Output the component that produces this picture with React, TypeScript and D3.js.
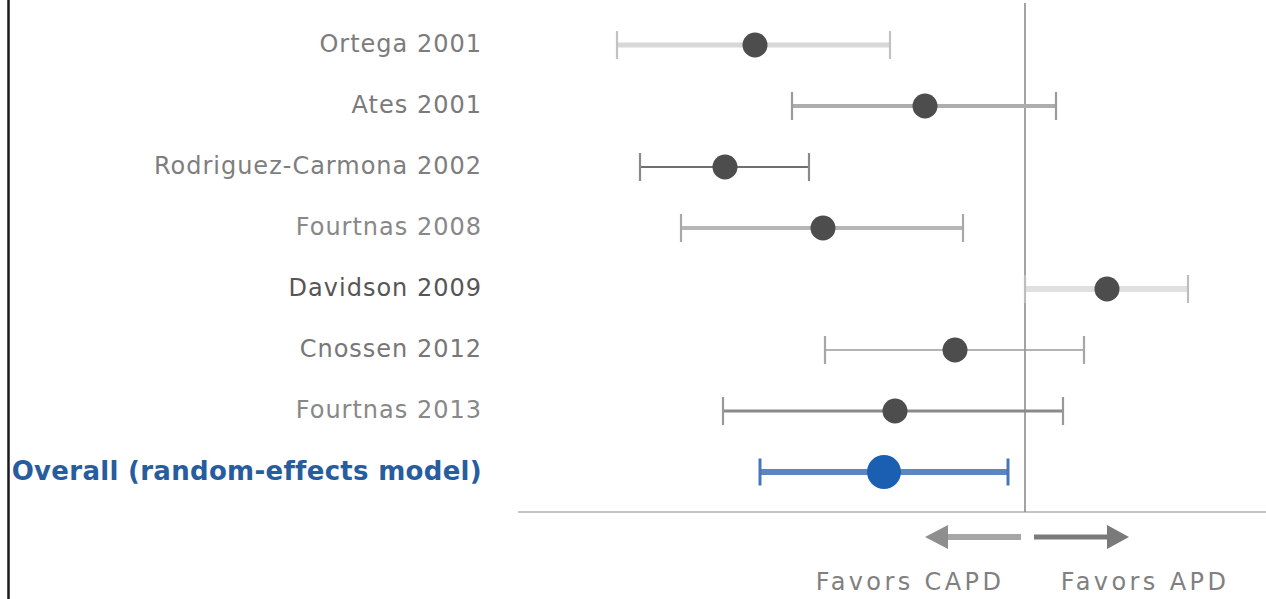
import React from "react";
import * as d3 from "d3";

// Study names, top to bottom
const studies = [
  "Ortega 2001",
  "Ates 2001",
  "Rodriguez-Carmona 2002",
  "Fourtnas 2008",
  "Davidson 2009",
  "Cnossen 2012",
  "Fourtnas 2013",
  "Overall (random-effects model)",
];

// Effect estimates and 95% confidence limits (0 = no difference)
const estimates = [-2.7, -1.0, -3.0, -2.02, 0.82, -0.7, -1.3, -1.41];
const lowerCI = [-4.08, -2.33, -3.85, -3.44, 0.0, -2.0, -3.02, -2.65];
const upperCI = [-1.35, 0.31, -2.16, -0.62, 1.63, 0.59, 0.38, -0.17];

const favorLabels = ["Favors CAPD", "Favors APD"];

// Per-row appearance
const rowStyles = [
  { label: "#7c7c7c", bar: "#d8d8d8", barW: 5, cap: "#c2c2c2" },
  { label: "#7a7a7a", bar: "#adadad", barW: 4, cap: "#9a9a9a" },
  { label: "#7e7e7e", bar: "#6f6f6f", barW: 2, cap: "#8a8a8a" },
  { label: "#888888", bar: "#b6b6b6", barW: 4, cap: "#a8a8a8" },
  { label: "#565656", bar: "#e0e0e0", barW: 6, cap: "#bdbdbd" },
  { label: "#777777", bar: "#9a9a9a", barW: 1.5, cap: "#a6a6a6" },
  { label: "#888888", bar: "#8a8a8a", barW: 3, cap: "#999999" },
  { label: "#275d9e", bar: "#5b86c2", barW: 6, cap: "#4677b8" },
];

const W = 1266;
const H = 599;

export default function App() {
  const x = d3.scaleLinear().domain([-5, 2.41]).range([525, 1266]);
  const y = d3.scalePoint<string>().domain(studies).range([45, 472]);
  const x0 = x(0);
  const axisY = 512;
  const arrowY = 537;
  const font = "'DejaVu Sans', sans-serif";
  const last = studies.length - 1;

  return (
    <svg
      width={W}
      height={H}
      style={{ position: "absolute", left: 0, top: 0, background: "#fff" }}
    >
      {/* frame edge */}
      <line x1={8.5} x2={8.5} y1={0} y2={H} stroke="#1a1a1a" strokeWidth={2.5} />

      {/* baseline and line of no effect */}
      <line x1={518} x2={W} y1={axisY} y2={axisY} stroke="#c4c4c4" strokeWidth={2} />
      <line x1={x0} x2={x0} y1={3} y2={axisY} stroke="#8c8c8c" strokeWidth={1.6} />

      {studies.map((s, i) => {
        const st = rowStyles[i];
        const cy = y(s)!;
        const overall = i === last;
        const capH = overall ? 13.5 : 14;
        return (
          <g key={s}>
            <text
              x={482}
              y={cy + (overall ? 8 : 7)}
              textAnchor="end"
              fontFamily={font}
              fontSize={overall ? 26 : 24}
              fontWeight={overall ? "bold" : "normal"}
              letterSpacing={overall ? 0.3 : 1}
              fill={st.label}
            >
              {s}
            </text>
            <line
              x1={x(lowerCI[i])}
              x2={x(upperCI[i])}
              y1={cy}
              y2={cy}
              stroke={st.bar}
              strokeWidth={st.barW}
            />
            {[lowerCI[i], upperCI[i]].map((v, k) => (
              <line
                key={k}
                x1={x(v)}
                x2={x(v)}
                y1={cy - capH}
                y2={cy + capH}
                stroke={st.cap}
                strokeWidth={overall ? 3 : 2.2}
              />
            ))}
            <circle
              cx={x(estimates[i])}
              cy={cy}
              r={overall ? 17 : 12.5}
              fill={overall ? "#1b5fb2" : "#4d4d4d"}
            />
          </g>
        );
      })}

      {/* direction arrows */}
      <line x1={x0 - 4} x2={x(-0.8)} y1={arrowY} y2={arrowY} stroke="#a6a6a6" strokeWidth={6} />
      <path
        d={`M${x(-1.0)},${arrowY} L${x(-0.77)},${arrowY - 12} L${x(-0.77)},${arrowY + 12} Z`}
        fill="#8e8e8e"
      />
      <line x1={x0 + 9} x2={x(0.85)} y1={arrowY} y2={arrowY} stroke="#7a7a7a" strokeWidth={5} />
      <path
        d={`M${x(1.04)},${arrowY} L${x(0.82)},${arrowY - 12} L${x(0.82)},${arrowY + 12} Z`}
        fill="#7a7a7a"
      />

      <text
        x={910}
        y={590}
        textAnchor="middle"
        fontFamily={font}
        fontSize={24}
        letterSpacing={3.4}
        fill="#808080"
      >
        {favorLabels[0]}
      </text>
      <text
        x={1145}
        y={590}
        textAnchor="middle"
        fontFamily={font}
        fontSize={24}
        letterSpacing={3.4}
        fill="#808080"
      >
        {favorLabels[1]}
      </text>
    </svg>
  );
}
